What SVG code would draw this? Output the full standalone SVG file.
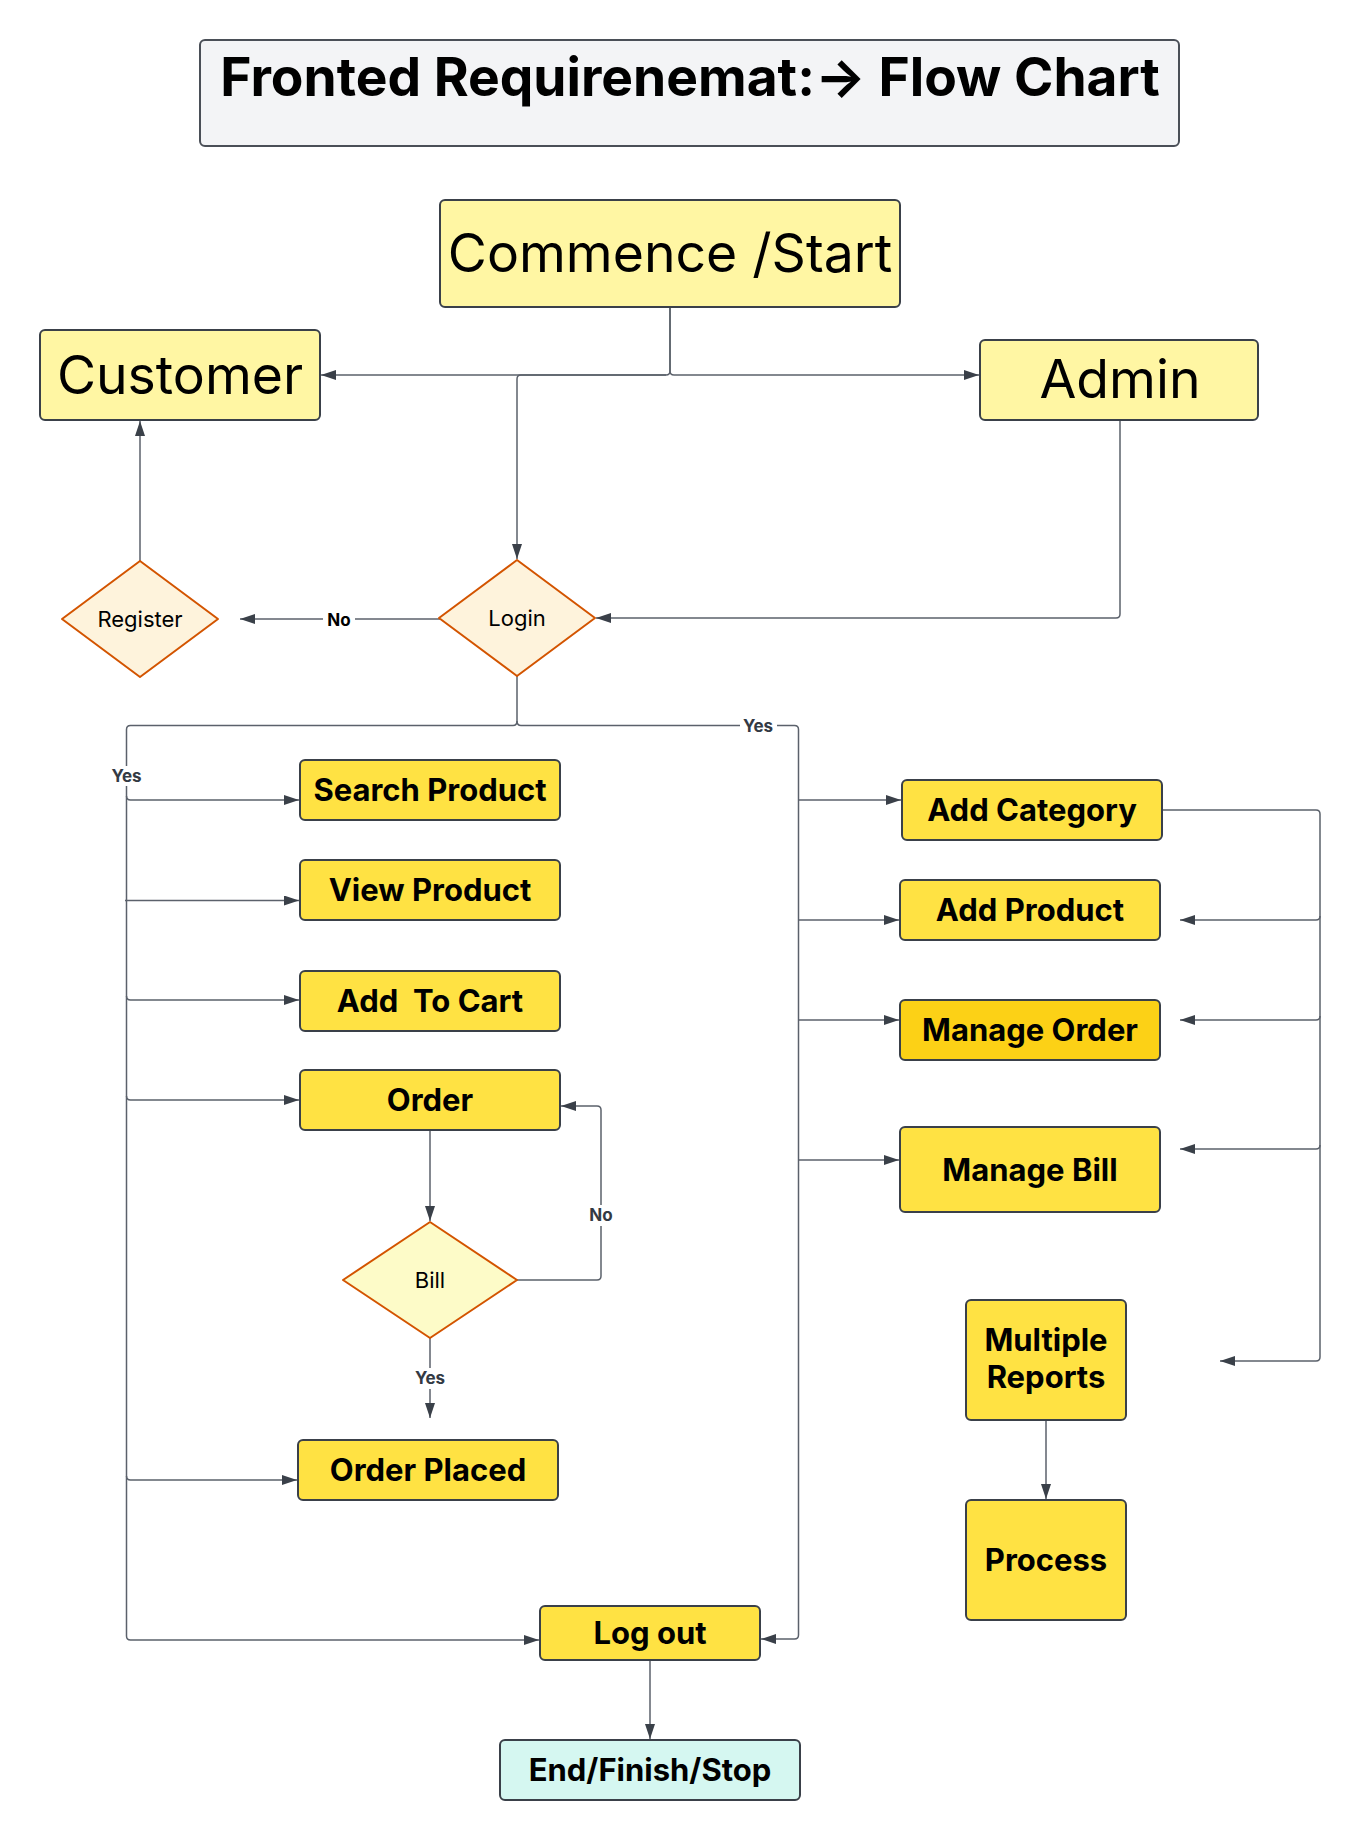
<svg xmlns="http://www.w3.org/2000/svg" width="1360" height="1840" viewBox="0 0 1360 1840">
<style>
.box{stroke:#3a4049;stroke-width:2}
.pale{fill:#fff6a3}
.yel{fill:#ffe243}
.gold{fill:#fcd116}
.dia{stroke:#d35400;stroke-width:2}
.t{font-family:Inter,"Liberation Sans",sans-serif;fill:#000;text-anchor:middle}
.big{font-size:53.5px}
.lbl{font-size:31px;font-weight:700}
.dl{font-size:22px}
.cl{font-family:Inter,"Liberation Sans",sans-serif;font-size:17px;font-weight:700;fill:#333a44;text-anchor:middle}
.c{fill:none;stroke:#5b616b;stroke-width:1.5}
.ca{fill:none;stroke:#5b616b;stroke-width:1.5;marker-end:url(#ah)}
</style>
<defs>
<marker id="ah" markerUnits="userSpaceOnUse" markerWidth="15" markerHeight="10" refX="15" refY="5" orient="auto">
<path d="M0,0 L15,5 L0,10 z" fill="#3a4049"/>
</marker>
</defs>
<rect width="1360" height="1840" fill="#fff"/>

<g id="connectors">
<path class="ca" d="M670,307 V371 Q670,375 666,375 H321"/>
<path class="ca" d="M670,307 V371 Q670,375 674,375 H979"/>
<path class="ca" d="M666,375 H521 Q517,375 517,379 V559"/>
<path class="ca" d="M140,562 V421"/>
<path class="ca" d="M440,619 H240"/>
<path class="ca" d="M1120,420 V614 Q1120,618 1116,618 H596"/>
<path class="c" d="M517,676 V721 Q517,725.5 513,725.5 H130.5 Q126.5,725.5 126.5,729.5 V1636 Q126.5,1640 130.5,1640 H300"/>
<path class="ca" d="M300,1640 H539"/>
<path class="ca" d="M126.5,796 Q126.5,800 130.5,800 H299"/>
<path class="ca" d="M125,900.5 H299"/>
<path class="ca" d="M126.5,996 Q126.5,1000 130.5,1000 H299"/>
<path class="ca" d="M126.5,1096 Q126.5,1100 130.5,1100 H299"/>
<path class="ca" d="M126.5,1476 Q126.5,1480 130.5,1480 H297"/>
<path class="c" d="M517,721 Q517,725.5 521,725.5 H794.5 Q798.5,725.5 798.5,729.5 V1635 Q798.5,1639 794.5,1639 H780"/>
<path class="ca" d="M780,1639 H761"/>
<path class="ca" d="M798.5,800 H901"/>
<path class="ca" d="M798.5,920 H899"/>
<path class="ca" d="M798.5,1020 H899"/>
<path class="ca" d="M798.5,1160 H899"/>
<path class="ca" d="M430,1130 V1221"/>
<path class="ca" d="M517,1280 H597 Q601,1280 601,1276 V1110 Q601,1106 597,1106 H561"/>
<path class="ca" d="M430,1338 V1418"/>
<path class="ca" d="M650,1660 V1739"/>
<path class="ca" d="M1046,1420 V1499"/>
<path class="ca" d="M1162,810 H1316 Q1320,810 1320,814 V1357 Q1320,1361 1316,1361 H1220"/>
<path class="ca" d="M1320,916 Q1320,920 1316,920 H1180"/>
<path class="ca" d="M1320,1016 Q1320,1020 1316,1020 H1180"/>
<path class="ca" d="M1320,1145 Q1320,1149 1316,1149 H1180"/>
<rect x="323" y="610" width="32" height="20" fill="#fff"/>
<text x="339" y="626" class="cl" style="fill:#000">No</text>
<rect x="108" y="766" width="37" height="20" fill="#fff"/>
<text x="126.5" y="782" class="cl">Yes</text>
<rect x="740" y="716" width="37" height="20" fill="#fff"/>
<text x="758" y="732" class="cl">Yes</text>
<rect x="585" y="1205" width="32" height="21" fill="#fff"/>
<text x="601" y="1221" class="cl">No</text>
<rect x="412" y="1368" width="37" height="21" fill="#fff"/>
<text x="430" y="1384" class="cl">Yes</text>
</g>

<g id="title">
<rect x="200" y="40" width="979" height="106" rx="5" fill="#f3f4f6" stroke="#4a4f57" stroke-width="2"/>
<text x="690" y="96" class="t" style="font-size:53.3px;font-weight:700">Fronted Requirenemat:→ Flow Chart</text>
</g>
<g id="start">
<rect x="440" y="200" width="460" height="107" rx="5" class="box pale"/>
<text x="670" y="272" class="t big">Commence /Start</text>
</g>
<g id="customer">
<rect x="40" y="330" width="280" height="90" rx="5" class="box pale"/>
<text x="180" y="394" class="t big">Customer</text>
</g>
<g id="admin">
<rect x="980" y="340" width="278" height="80" rx="5" class="box pale"/>
<text x="1120" y="398" class="t big">Admin</text>
</g>
<g id="login">
<path d="M517,560 L595,618 L517,676 L439,618 Z" fill="#fef3dc" class="dia" stroke-linejoin="round"/>
<text x="517" y="626" class="t dl">Login</text>
</g>
<g id="register">
<path d="M140,561 L218,619 L140,677 L62,619 Z" fill="#fef3dc" class="dia" stroke-linejoin="round"/>
<text x="140" y="627" class="t dl">Register</text>
</g>
<g id="search">
<rect x="300" y="760" width="260" height="60" rx="5" class="box yel"/>
<text x="430" y="801" class="t lbl">Search Product</text>
</g>
<g id="view">
<rect x="300" y="860" width="260" height="60" rx="5" class="box yel"/>
<text x="430" y="901" class="t lbl">View Product</text>
</g>
<g id="cart">
<rect x="300" y="971" width="260" height="60" rx="5" class="box yel"/>
<text x="430" y="1012" class="t lbl" xml:space="preserve">Add  To Cart</text>
</g>
<g id="order">
<rect x="300" y="1070" width="260" height="60" rx="5" class="box yel"/>
<text x="430" y="1111" class="t lbl">Order</text>
</g>
<g id="bill">
<path d="M430,1222 L517,1280 L430,1338 L343,1280 Z" fill="#fdfbc8" class="dia" stroke-linejoin="round"/>
<text x="430" y="1288" class="t dl">Bill</text>
</g>
<g id="placed">
<rect x="298" y="1440" width="260" height="60" rx="5" class="box yel"/>
<text x="428" y="1481" class="t lbl">Order Placed</text>
</g>
<g id="logout">
<rect x="540" y="1606" width="220" height="54" rx="5" class="box yel"/>
<text x="650" y="1644" class="t lbl">Log out</text>
</g>
<g id="end">
<rect x="500" y="1740" width="300" height="60" rx="5" class="box" fill="#d5f7f1"/>
<text x="650" y="1781" class="t lbl">End/Finish/Stop</text>
</g>
<g id="addcat">
<rect x="902" y="780" width="260" height="60" rx="5" class="box yel"/>
<text x="1032" y="821" class="t lbl">Add Category</text>
</g>
<g id="addprod">
<rect x="900" y="880" width="260" height="60" rx="5" class="box yel"/>
<text x="1030" y="921" class="t lbl">Add Product</text>
</g>
<g id="mngorder">
<rect x="900" y="1000" width="260" height="60" rx="5" class="box gold"/>
<text x="1030" y="1041" class="t lbl">Manage Order</text>
</g>
<g id="mngbill">
<rect x="900" y="1127" width="260" height="85" rx="5" class="box yel"/>
<text x="1030" y="1181" class="t lbl">Manage Bill</text>
</g>
<g id="reports">
<rect x="966" y="1300" width="160" height="120" rx="5" class="box yel"/>
<text x="1046" y="1351" class="t lbl">Multiple</text>
<text x="1046" y="1388" class="t lbl">Reports</text>
</g>
<g id="process">
<rect x="966" y="1500" width="160" height="120" rx="5" class="box yel"/>
<text x="1046" y="1571" class="t lbl">Process</text>
</g>
</svg>
